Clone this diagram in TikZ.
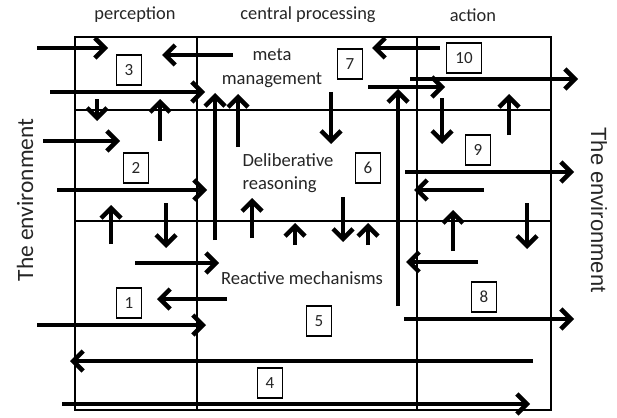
\documentclass[tikz,border=0pt]{standalone}
\usepackage{fontspec}
\setmainfont{Carlito}
\newfontfamily\arialfont{Liberation Sans}
\usetikzlibrary{arrows.meta}
\begin{document}
\begin{tikzpicture}[x=1pt,y=-1pt,
  grid/.style={line width=2.2pt},
  arr/.style={line width=4.5pt,-{Straight Barb[length=10pt,width=20pt,line width=4.5pt]}},
  numbox/.style={draw,line width=1.6pt,minimum width=25pt,minimum height=30pt,inner sep=0pt,text=black!85,font=\fontsize{17}{18}\selectfont},
  hdr/.style={font=\fontsize{18.4}{20}\selectfont,inner sep=0pt,text=black!85},
  lbl/.style={font=\fontsize{18.6}{23.5}\selectfont,inner sep=0pt,text=black!85}]
\useasboundingbox (0,0) rectangle (617,417);
\fill[white] (0,0) rectangle (617,417);
% grid
\draw[grid] (75,37) rectangle (551,410);
\draw[grid] (197,37) -- (197,410);
\draw[grid] (417,37) -- (417,410);
\draw[grid] (75,110) -- (551,110);
\draw[grid] (75,221) -- (551,221);
% headers
\node[hdr] (hp) at (135,15) {perception};
\node[hdr] (hc) at (308,15) {central processing};
\node[hdr] (ha) at (473,15) {action};
\node[font=\fontsize{23.4}{24}\selectfont,inner sep=0pt,rotate=90,text=black!85] (envl) at (25,200) {The environment};
\node[font=\arialfont\fontsize{22}{24}\selectfont,inner sep=0pt,rotate=-90,text=black!85] (envr) at (599,210) {The environment};
% labels
\node[lbl,align=center] (meta) at (272,68) {meta\\management};
\node[lbl,align=left] (delib) at (288,173) {Deliberative\\reasoning};
\node[lbl] (react) at (302,278) {Reactive mechanisms};
% number boxes
\node[numbox] (b1) at (129,303) {1};
\node[numbox] (b2) at (136,168) {2};
\node[numbox] (b3) at (129,70) {3};
\node[numbox] (b4) at (270,383) {4};
\node[numbox] (b5) at (319,321) {5};
\node[numbox] (b6) at (368,168) {6};
\node[numbox] (b7) at (350,64) {7};
\node[numbox] (b8) at (484,297) {8};
\node[numbox] (b9) at (478,150) {9};
\node[numbox,minimum width=35pt] (b10) at (464,58) {10};
% arrows: perception
\draw[arr] (37,48) -- (108,48);
\draw[arr] (233,55) -- (162,55);
\draw[arr] (50,92) -- (205,92);
\draw[arr] (97,99) -- (97,121);
\draw[arr] (160,141) -- (160,99);
\draw[arr] (43,141) -- (120,141);
\draw[arr] (57,190) -- (207,190);
\draw[arr] (111,244) -- (111,205);
\draw[arr] (166,203) -- (166,248);
\draw[arr] (135,263) -- (219,263);
\draw[arr] (227,299) -- (157,299);
\draw[arr] (37,325) -- (206,325);
% central
\draw[arr] (215,240) -- (215,93);
\draw[arr] (238,147) -- (238,94);
\draw[arr] (331,92) -- (331,144);
\draw[arr] (252,238) -- (252,198);
\draw[arr] (295,245) -- (295,223);
\draw[arr] (343,197) -- (343,242);
\draw[arr] (368,245) -- (368,223);
\draw[arr] (398,306) -- (398,89);
\draw[arr] (368,87) -- (445,87);
\draw[arr] (410,79) -- (578,79);
% action
\draw[arr] (440,48) -- (372,48);
\draw[arr] (442,98) -- (442,144);
\draw[arr] (509,135) -- (509,94);
\draw[arr] (405,172) -- (574,172);
\draw[arr] (484,190) -- (414,190);
\draw[arr] (453,251) -- (453,210);
\draw[arr] (527,203) -- (527,249);
\draw[arr] (478,262) -- (406,262);
\draw[arr] (404,319) -- (574,319);
% bottom
\draw[arr] (533,361) -- (70,361);
\draw[arr] (62,404) -- (530,404);
\end{tikzpicture}
\end{document}
